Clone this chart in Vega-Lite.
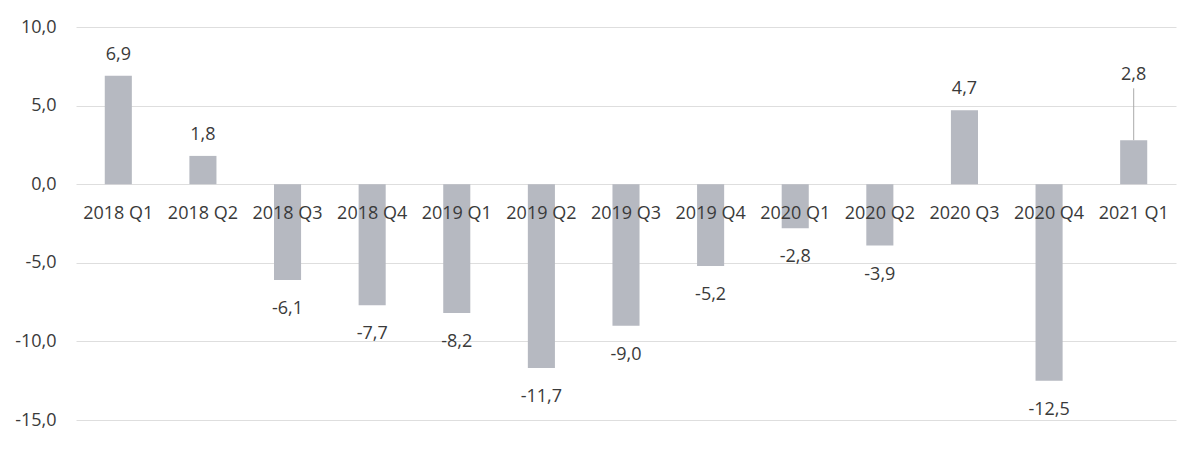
{
  "$schema": "https://vega.github.io/schema/vega-lite/v6.json",
  "autosize": {"type": "none"},
  "width": 1100,
  "height": 393,
  "padding": {"left": 76, "top": 27, "right": 26, "bottom": 34},
  "background": "white",
  "config": {
    "view": {"stroke": null},
    "font": "Open Sans",
    "locale": {"number": {"decimal": ",", "thousands": ".", "grouping": [3], "currency": ["", " €"], "minus": "-"}}
  },
  "data": {"values": [
    {"q": "2018 Q1", "v": 6.9},
    {"q": "2018 Q2", "v": 1.8},
    {"q": "2018 Q3", "v": -6.1},
    {"q": "2018 Q4", "v": -7.7},
    {"q": "2019 Q1", "v": -8.2},
    {"q": "2019 Q2", "v": -11.7},
    {"q": "2019 Q3", "v": -9.0},
    {"q": "2019 Q4", "v": -5.2},
    {"q": "2020 Q1", "v": -2.8},
    {"q": "2020 Q2", "v": -3.9},
    {"q": "2020 Q3", "v": 4.7},
    {"q": "2020 Q4", "v": -12.5},
    {"q": "2021 Q1", "v": 2.8}
  ]},
  "encoding": {
    "x": {"field": "q", "type": "nominal", "sort": null,
      "scale": {"paddingInner": 0.68, "paddingOuter": 0.34},
      "axis": null}
  },
  "layer": [
    {
      "mark": {"type": "bar", "color": "#b6b9c1"},
      "encoding": {
        "y": {"field": "v", "type": "quantitative",
          "scale": {"domain": [-15, 10], "nice": false, "zero": false},
          "axis": {"values": [10, 5, 0, -5, -10, -15], "title": null,
            "format": ".1f",
            "labelFont": "Open Sans", "labelFontSize": 18, "labelColor": "#3a3a3a",
            "labelPadding": 20, "ticks": false, "domain": false,
            "grid": true, "gridColor": "#dedede", "gridWidth": 1}},
        "y2": {"datum": 0}
      }
    },
    {
      "transform": [{"filter": "datum.v > 0 && datum.q != '2021 Q1'"}],
      "mark": {"type": "text", "baseline": "alphabetic", "dy": -16, "font": "Open Sans", "fontSize": 18, "color": "#3a3a3a"},
      "encoding": {
        "y": {"field": "v", "type": "quantitative"},
        "text": {"field": "v", "type": "quantitative", "format": ".1f"}
      }
    },
    {
      "transform": [{"filter": "datum.v < 0"}],
      "mark": {"type": "text", "baseline": "alphabetic", "dy": 34, "font": "Open Sans", "fontSize": 18, "color": "#3a3a3a"},
      "encoding": {
        "y": {"field": "v", "type": "quantitative"},
        "text": {"field": "v", "type": "quantitative", "format": ".1f"}
      }
    },
    {
      "transform": [{"filter": "datum.q == '2021 Q1'"}],
      "mark": {"type": "rule", "color": "#aaaaaa", "strokeWidth": 1},
      "encoding": {
        "y": {"field": "v", "type": "quantitative"},
        "y2": {"datum": 6.1}
      }
    },
    {
      "transform": [{"filter": "datum.q == '2021 Q1'"}],
      "mark": {"type": "text", "baseline": "alphabetic", "dy": -8, "font": "Open Sans", "fontSize": 18, "color": "#3a3a3a"},
      "encoding": {
        "y": {"datum": 6.1},
        "text": {"field": "v", "type": "quantitative", "format": ".1f"}
      }
    },
    {
      "mark": {"type": "text", "baseline": "alphabetic", "dy": 35, "font": "Open Sans", "fontSize": 18, "color": "#3a3a3a"},
      "encoding": {
        "y": {"datum": 0},
        "text": {"field": "q", "type": "nominal"}
      }
    }
  ]
}
